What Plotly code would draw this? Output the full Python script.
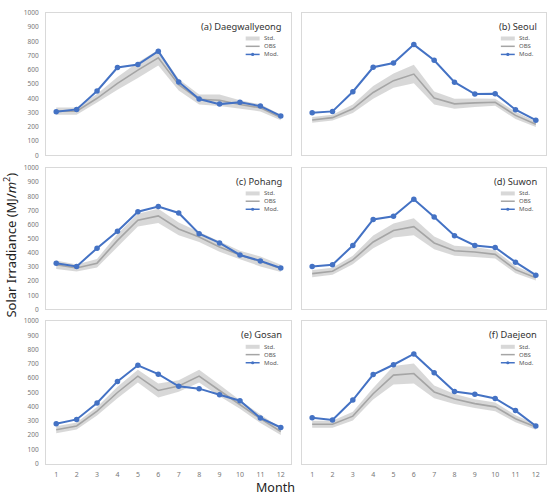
import plotly.graph_objects as go

months = list(range(1, 13))
y_ticks = list(range(0, 1001, 100))

panel_titles = ["(a) Daegwallyeong", "(b) Seoul", "(c) Pohang",
                "(d) Suwon", "(e) Gosan", "(f) Daejeon"]

daegwallyeong_obs = [310, 310, 400, 505, 598, 685, 495, 392, 386, 356, 333, 265]
daegwallyeong_std = [25, 25, 30, 45, 55, 55, 40, 35, 40, 30, 25, 20]
daegwallyeong_mod = [306, 322, 451, 616, 637, 731, 515, 395, 359, 372, 345, 276]

seoul_obs = [248, 264, 326, 441, 524, 570, 402, 361, 368, 372, 280, 218]
seoul_std = [20, 20, 30, 45, 50, 65, 45, 35, 30, 25, 25, 20]
seoul_mod = [299, 308, 446, 618, 648, 777, 667, 513, 430, 432, 320, 246]

pohang_obs = [316, 293, 327, 488, 631, 661, 569, 512, 442, 385, 339, 290]
pohang_std = [30, 25, 30, 45, 45, 50, 45, 35, 35, 30, 35, 25]
pohang_mod = [327, 304, 433, 553, 691, 728, 682, 535, 470, 385, 343, 293]

suwon_obs = [253, 270, 350, 477, 558, 585, 470, 415, 406, 389, 281, 224]
suwon_std = [25, 25, 30, 45, 50, 60, 45, 35, 35, 30, 25, 20]
suwon_mod = [304, 316, 452, 636, 659, 779, 654, 521, 452, 438, 334, 242]

gosan_obs = [237, 264, 368, 499, 614, 513, 545, 614, 513, 414, 315, 225]
gosan_std = [25, 25, 30, 40, 45, 50, 40, 45, 40, 30, 30, 25]
gosan_mod = [280, 310, 425, 577, 690, 628, 543, 526, 483, 441, 320, 253]

daejeon_obs = [276, 276, 333, 490, 621, 632, 503, 453, 421, 398, 315, 257]
daejeon_std = [25, 25, 30, 40, 65, 70, 45, 35, 30, 30, 25, 20]
daejeon_mod = [322, 306, 446, 625, 694, 770, 637, 506, 487, 457, 372, 264]

legend_labels = ["Std.", "OBS", "Mod."]

obs_list = [daegwallyeong_obs, seoul_obs, pohang_obs, suwon_obs, gosan_obs, daejeon_obs]
std_list = [daegwallyeong_std, seoul_std, pohang_std, suwon_std, gosan_std, daejeon_std]
mod_list = [daegwallyeong_mod, seoul_mod, pohang_mod, suwon_mod, gosan_mod, daejeon_mod]

W, H = 549, 497
BLUE = "#4472C4"
OBS_C = "#A5A5A5"
STD_C = "rgba(195,195,195,0.65)"
BORDER = "#D9D9D9"
FONT = "Noto Sans"

col_px = [(46, 291), (302, 546)]
row_px = [(8, 153), (166, 310), (322, 467)]

fig = go.Figure()
annotations = []
shapes = []
layout_axes = {}

for i in range(6):
    r, c = divmod(i, 2)
    n = i + 1
    xn = "x" if n == 1 else f"x{n}"
    yn = "y" if n == 1 else f"y{n}"
    obs, std, mod = obs_list[i], std_list[i], mod_list[i]
    upper = [o + s for o, s in zip(obs, std)]
    lower = [o - s for o, s in zip(obs, std)]
    fig.add_trace(go.Scatter(x=months, y=upper, mode="lines", line=dict(width=0, color=STD_C),
                             xaxis=xn, yaxis=yn, showlegend=False, hoverinfo="skip"))
    fig.add_trace(go.Scatter(x=months, y=lower, mode="lines", line=dict(width=0, color=STD_C),
                             fill="tonexty", fillcolor=STD_C,
                             xaxis=xn, yaxis=yn, showlegend=False, name="Std."))
    fig.add_trace(go.Scatter(x=months, y=obs, mode="lines", line=dict(width=1.6, color=OBS_C),
                             xaxis=xn, yaxis=yn, showlegend=False, name="OBS"))
    fig.add_trace(go.Scatter(x=months, y=mod, mode="lines+markers",
                             line=dict(width=2, color=BLUE),
                             marker=dict(size=5.5, color=BLUE),
                             xaxis=xn, yaxis=yn, showlegend=False, name="Mod."))

    x0, x1 = col_px[c]
    y0, y1 = row_px[r]
    xd = [x0 / W, x1 / W]
    yd = [1 - y1 / H, 1 - y0 / H]
    xkey = "xaxis" if n == 1 else f"xaxis{n}"
    ykey = "yaxis" if n == 1 else f"yaxis{n}"
    layout_axes[xkey] = dict(domain=xd, anchor=yn, range=[0.5, 12.5], tickvals=months,
                             showticklabels=(r == 2), showgrid=False, zeroline=False,
                             showline=True, mirror=True, linecolor=BORDER, linewidth=1,
                             ticks="", ticklabelstandoff=4,
                             tickfont=dict(size=7, color="#777777", family=FONT))
    layout_axes[ykey] = dict(domain=yd, anchor=xn, range=[0, 1000], tickvals=y_ticks,
                             showticklabels=(c == 0), showgrid=False, zeroline=False,
                             showline=True, mirror=True, linecolor=BORDER, linewidth=1,
                             ticks="", ticklabelstandoff=5,
                             tickfont=dict(size=6.5, color="#777777", family=FONT))

    xr = f"{xn} domain"
    yr = f"{yn} domain"
    annotations.append(dict(text=panel_titles[i], xref=xr, yref=yr, x=0.97, y=0.905,
                            xanchor="right", yanchor="middle", showarrow=False,
                            font=dict(size=9.3, color="#333333", family=FONT)))
    leg_y = [0.82, 0.765, 0.708]
    for k, lab in enumerate(legend_labels):
        annotations.append(dict(text=lab, xref=xr, yref=yr, x=0.88, y=leg_y[k],
                                xanchor="left", yanchor="middle", showarrow=False,
                                font=dict(size=6, color="#595959", family=FONT)))
    shapes.append(dict(type="line", xref=xr, yref=yr, x0=0.815, x1=0.872,
                       y0=leg_y[0], y1=leg_y[0], line=dict(color=STD_C, width=4)))
    shapes.append(dict(type="line", xref=xr, yref=yr, x0=0.815, x1=0.872,
                       y0=leg_y[1], y1=leg_y[1], line=dict(color=OBS_C, width=1.5)))
    shapes.append(dict(type="line", xref=xr, yref=yr, x0=0.815, x1=0.872,
                       y0=leg_y[2], y1=leg_y[2], line=dict(color=BLUE, width=1.5)))
    shapes.append(dict(type="circle", xref=xr, yref=yr, x0=0.837, x1=0.85,
                       y0=leg_y[2] - 0.011, y1=leg_y[2] + 0.011,
                       fillcolor=BLUE, line=dict(color=BLUE, width=0)))

annotations.append(dict(text="Solar Irradiance (MJ/<i>m</i><sup>2</sup>)", xref="paper", yref="paper",
                        x=10 / W, y=1 - 245 / H, textangle=-90, showarrow=False,
                        xanchor="center", yanchor="middle",
                        font=dict(size=13, color="#222222", family=FONT)))
annotations.append(dict(text="Month", xref="paper", yref="paper",
                        x=275 / W, y=1 - 491 / H, showarrow=False,
                        xanchor="center", yanchor="middle",
                        font=dict(size=12.5, color="#222222", family=FONT)))

fig.update_layout(width=W, height=H, margin=dict(l=0, r=0, t=0, b=0),
                  paper_bgcolor="white", plot_bgcolor="white",
                  showlegend=False, annotations=annotations, shapes=shapes,
                  **layout_axes)

fig.write_html("out.html")
